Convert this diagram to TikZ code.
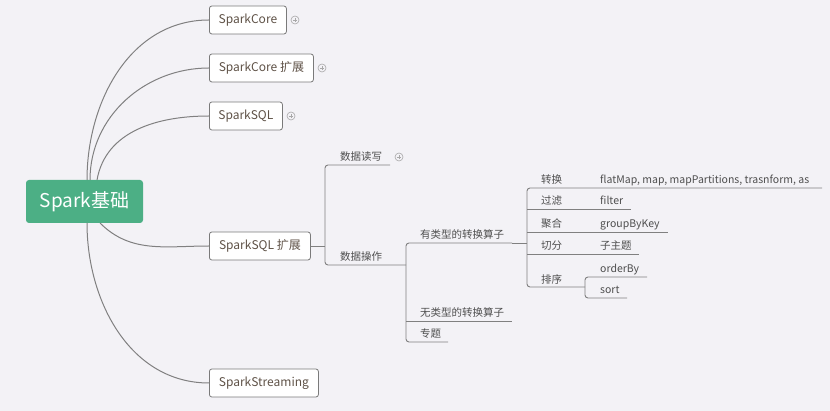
\documentclass[tikz,border=0pt]{standalone}
\usepackage{fontspec}
\setmainfont{Noto Sans CJK SC}
\definecolor{bg}{HTML}{F3F2F6}
\definecolor{rootc}{HTML}{4CAF85}
\definecolor{boxc}{HTML}{7A7A7A}
\definecolor{boxtext}{HTML}{5F5247}
\definecolor{lbltext}{HTML}{4E4E4E}
\definecolor{linec}{HTML}{808080}
\definecolor{plusc}{HTML}{A8A8A8}
\begin{document}
\begin{tikzpicture}[x=1pt,y=-1pt,
  box/.style={draw=boxc, fill=white, rounded corners=2.5pt, minimum height=28pt, inner xsep=0pt, line width=0.8pt, font=\fontsize{12}{14}\selectfont, text=boxtext},
  lbl/.style={anchor=base west, inner sep=0pt, font=\fontsize{10.5}{12}\selectfont, text=lbltext},
  ln/.style={draw=linec, line width=0.9pt, rounded corners=3pt},
  curve/.style={draw=linec, line width=1pt},
  plus/.style={circle, draw=plusc, minimum size=8pt, inner sep=0pt, line width=0.6pt,
    path picture={\draw[plusc, line width=0.6pt] ([xshift=-2pt]path picture bounding box.center) -- ([xshift=2pt]path picture bounding box.center) ([yshift=-2pt]path picture bounding box.center) -- ([yshift=2pt]path picture bounding box.center);}}
]
\fill[bg] (0,0) rectangle (830,411);
\useasboundingbox (0,0) rectangle (830,411);

% root
\node[fill=rootc, rounded corners=3pt, minimum width=117pt, minimum height=43pt, text=white, font=\fontsize{19}{22}\selectfont] (root) at (84.5,201.5) {Spark基础};

% first level boxes
\node[box, anchor=west, minimum width=77pt] (core) at (209,20) {SparkCore};
\node[box, anchor=west, minimum width=104pt] (coreext) at (209,68) {SparkCore 扩展};
\node[box, anchor=west, minimum width=73pt] (sql) at (209,116) {SparkSQL};
\node[box, anchor=west, minimum width=101pt] (sqlext) at (209,246) {SparkSQL 扩展};
\node[box, anchor=west, minimum width=109pt] (stream) at (209,383) {SparkStreaming};

\node[plus] (p1) at (295,20) {};
\node[plus] (p2) at (322,68) {};
\node[plus] (p3) at (291,116) {};

% curves from root
\coordinate (r1) at (87,180);
\coordinate (r2) at (90,180);
\coordinate (r3) at (97,180);
\coordinate (r4) at (100,223);
\coordinate (r5) at (87,223);
\begin{scope}[on background layer/.style={}]
\draw[curve] (r1) to[out=90,in=180] (core.west);
\draw[curve] (r2) to[out=90,in=180] (coreext.west);
\draw[curve] (r3) to[out=80,in=180] (sql.west);
\draw[curve] (r4) to[out=-45,in=180] (sqlext.west);
\draw[curve] (r5) to[out=-90,in=180] (stream.west);
\end{scope}

% SparkSQL 扩展 children
\coordinate (j1) at (325,246);
\coordinate (a1) at (325,165);
\coordinate (a1e) at (390,165);
\coordinate (a2) at (325,265);
\coordinate (j2) at (406,265);
\node[lbl] (dsrw) at (340,161) {数据读写};
\node[lbl] (dsop) at (340,261) {数据操作};
\node[plus] (p4) at (399,157) {};
\draw[ln] (sqlext.east) -- (j1);
\draw[ln] (a1e) -- (a1) -- (a2) -- (j2);

% 数据操作 children
\coordinate (b1) at (406,243);
\coordinate (b1e) at (512,243);
\coordinate (b2) at (406,321);
\coordinate (b2e) at (512,321);
\coordinate (b3) at (406,342);
\coordinate (b3e) at (448,342);
\node[lbl] (typed) at (420,239) {有类型的转换算子};
\node[lbl] (untyped) at (420,317) {无类型的转换算子};
\node[lbl] (topic) at (420,338) {专题};
\draw[ln] (b1e) -- (b1) -- (b3) -- (b3e);
\draw[ln] (b2) -- (b2e);

% 有类型 children
\coordinate (j3) at (527,243);
\coordinate (c1) at (527,188);
\coordinate (c1e) at (822,188);
\coordinate (c2) at (527,209);
\coordinate (c2e) at (631,209);
\coordinate (c3) at (527,232);
\coordinate (c3e) at (668,232);
\coordinate (c4) at (527,254);
\coordinate (c4e) at (639,254);
\coordinate (c5) at (527,287);
\coordinate (c5e) at (585,287);
\draw[ln] (b1e) -- (j3);
\draw[ln] (c1e) -- (c1) -- (c5) -- (c5e);
\draw[ln] (c2) -- (c2e);
\draw[ln] (c3) -- (c3e);
\draw[ln] (c4) -- (c4e);
\node[lbl] (zh) at (541,184) {转换};
\node[lbl] (zhv) at (600,184) {flatMap, map, mapPartitions, trasnform, as};
\node[lbl] (gl) at (541,205) {过滤};
\node[lbl] (glv) at (600,205) {filter};
\node[lbl] (jh) at (541,228) {聚合};
\node[lbl] (jhv) at (600,228) {groupByKey};
\node[lbl] (qf) at (541,250) {切分};
\node[lbl] (qfv) at (600,250) {子主题};
\node[lbl] (px) at (541,284) {排序};

% 排序 children
\coordinate (d1) at (585,277);
\coordinate (d1e) at (647,277);
\coordinate (d2) at (585,298);
\coordinate (d2e) at (627,298);
\draw[ln] (d1e) -- (d1) -- (d2) -- (d2e);
\node[lbl] (ob) at (600,273) {orderBy};
\node[lbl] (st) at (600,294) {sort};
\end{tikzpicture}
\end{document}
